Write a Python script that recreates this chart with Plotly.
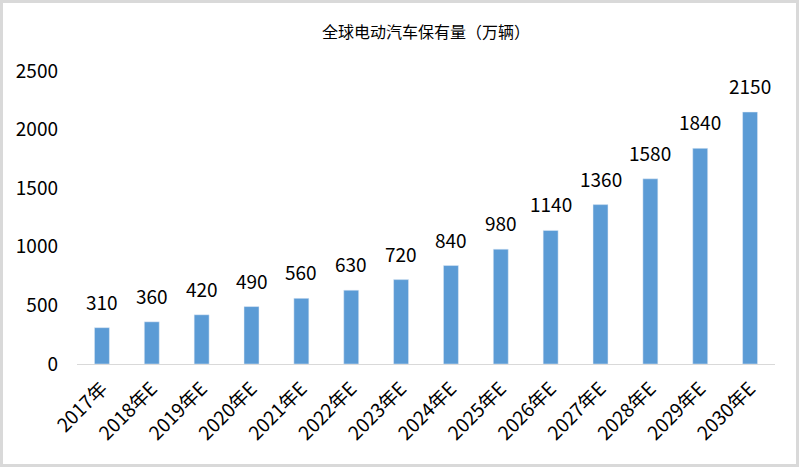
import plotly.graph_objects as go

years = ["2017年", "2018年E", "2019年E", "2020年E", "2021年E", "2022年E", "2023年E",
         "2024年E", "2025年E", "2026年E", "2027年E", "2028年E", "2029年E", "2030年E"]
stock = [310, 360, 420, 490, 560, 630, 720, 840, 980, 1140, 1360, 1580, 1840, 2150]
y_ticks = [0, 500, 1000, 1500, 2000, 2500]

W, H = 799, 467
ml, mr, mt, mb = 77, 24, 71, 103
pw, ph = W - ml - mr, H - mt - mb

font = "Noto Sans CJK SC, Microsoft YaHei, sans-serif"

fig = go.Figure(go.Bar(
    x=years, y=stock,
    marker_color="#5B9BD5",
    width=0.3,
))

# value labels above the bars
for yr, v in zip(years, stock):
    fig.add_annotation(x=yr, y=v, text=str(v), showarrow=False, yanchor="bottom",
                       yshift=11, font=dict(size=19, color="#000000", family=font))

fig.update_layout(
    width=W, height=H,
    margin=dict(l=ml, r=mr, t=mt, b=mb, autoexpand=False),
    plot_bgcolor="white", paper_bgcolor="white",
    font=dict(family=font, color="#000000"),
    title=dict(text="全球电动汽车保有量（万辆）", x=0.5, xref="paper", y=1 - 32 / H,
               yanchor="middle", font=dict(size=16, color="#000000")),
    showlegend=False,
    xaxis=dict(tickangle=-45, tickfont=dict(size=19), showline=True, linecolor="#D9D9D9",
               linewidth=1, ticks="", showgrid=False, automargin=False,
               ticklabelstandoff=5),
    yaxis=dict(range=[0, 2500], tickvals=y_ticks, showgrid=False, zeroline=False,
               tickfont=dict(size=19), ticklabelstandoff=18, automargin=False),
    shapes=[dict(type="rect", xref="paper", yref="paper",
                 x0=(1.5 - ml) / pw, x1=(W - 1.5 - ml) / pw,
                 y0=-(mb - 1.5) / ph, y1=1 + (mt - 1.5) / ph,
                 line=dict(color="#D9D9D9", width=3))],
)

fig.write_html("out.html", config={"displayModeBar": False},
               post_script="document.body.style.margin='0';")
